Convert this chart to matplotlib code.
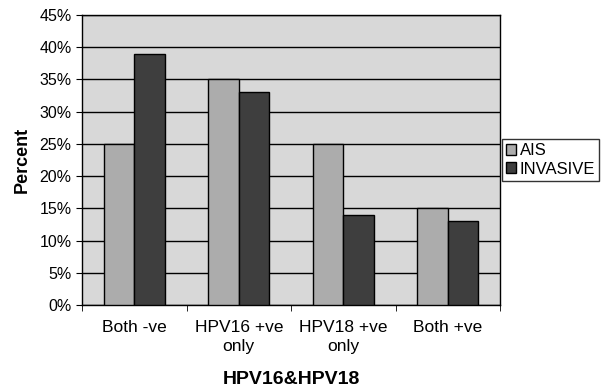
import numpy as np
import matplotlib
matplotlib.use('Agg')
import matplotlib.pyplot as plt
from matplotlib.ticker import PercentFormatter

categories = ['Both -ve', 'HPV16 +ve\nonly', 'HPV18 +ve\nonly', 'Both +ve']
ais = [25, 35, 25, 15]
invasive = [39, 33, 14, 13]

plt.rcParams['font.family'] = ['Liberation Sans', 'DejaVu Sans']

fig = plt.figure(figsize=(6.12, 3.91), dpi=100)
ax = fig.add_axes([0.134, 0.22, 0.683, 0.742])

x = np.arange(len(categories))
w = 0.29
ax.bar(x - w/2, ais, w, color='#acacac', edgecolor='black', linewidth=1, label='AIS', zorder=3)
ax.bar(x + w/2, invasive, w, color='#3e3e3e', edgecolor='black', linewidth=1, label='INVASIVE', zorder=3)

ax.set_facecolor('#d8d8d8')
ax.set_xlim(-0.5, 3.5)
ax.set_ylim(0, 45)
ax.set_yticks(np.arange(0, 46, 5))
ax.yaxis.set_major_formatter(PercentFormatter(decimals=0))
ax.grid(axis='y', color='black', linewidth=1, zorder=0)
ax.set_axisbelow(True)

ax.set_xticks(x)
ax.set_xticklabels(categories, fontsize=12.5, linespacing=1.3)
ax.set_xticks(np.arange(-0.5, 3.6, 1), minor=True)
ax.tick_params(axis='x', which='major', length=0, pad=11)
ax.tick_params(axis='x', which='minor', length=4, color='black')
ax.tick_params(axis='y', labelsize=11.5, length=4)
for s in ax.spines.values():
    s.set_color('black')
    s.set_linewidth(1)

ax.set_ylabel('Percent', fontsize=13, fontweight='bold', labelpad=6)
ax.set_xlabel('HPV16&HPV18', fontsize=14, fontweight='bold', labelpad=12)

leg = ax.legend(loc='center left', bbox_to_anchor=(1.005, 0.5), fontsize=12,
                frameon=True, fancybox=False, edgecolor='black',
                handlelength=0.6, handleheight=0.6, handletextpad=0.2,
                borderpad=0.25, labelspacing=0.2, borderaxespad=0)
leg.get_frame().set_linewidth(1)

fig.savefig('out.png', dpi=100)
